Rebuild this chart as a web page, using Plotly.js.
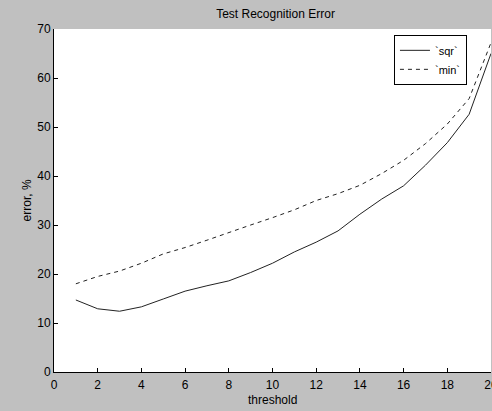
<!DOCTYPE html>
<html><head><meta charset="utf-8">
<script src="https://cdn.plot.ly/plotly-3.0.1.min.js"></script>
<style>html,body{margin:0;padding:0;background:#c0c0c0;}#chart{width:492px;height:411px;}</style>
</head><body><div id="chart"></div>
<script>
var thresholds = [1,2,3,4,5,6,7,8,9,10,11,12,13,14,15,16,17,18,19,20];
var sqrErr = [14.7,12.9,12.4,13.3,14.9,16.5,17.6,18.6,20.3,22.2,24.5,26.5,28.8,32.2,35.3,38.0,42.2,46.8,52.6,65.0];
var minErr = [18.0,19.5,20.6,22.2,24.1,25.4,26.9,28.5,30.0,31.5,33.1,35.0,36.4,38.1,40.5,43.2,46.6,50.6,55.8,67.2];
var xTicks = [0,2,4,6,8,10,12,14,16,18,20];
var yTicks = [0,10,20,30,40,50,60,70];

var font = {family:'Liberation Sans, Arial, sans-serif', size:12, color:'#000'};
var data = [
  {x:thresholds, y:sqrErr, name:'`sqr`', mode:'lines', line:{color:'#222', width:1, dash:'solid'}},
  {x:thresholds, y:minErr, name:'`min`', mode:'lines', line:{color:'#222', width:1, dash:'4px,4px'}}
];
var layout = {
  width:492, height:411,
  paper_bgcolor:'#c0c0c0', plot_bgcolor:'#ffffff',
  margin:{l:54, r:1, t:29, b:39},
  font:font,
  title:{text:'Test Recognition Error', font:{family:font.family, size:12, color:'#000'}, x:0.56, xanchor:'center', y:0.967, yanchor:'middle'},
  xaxis:{range:[0,20], tickvals:xTicks, ticktext:xTicks.map(String), ticks:'inside', ticklen:4, tickcolor:'#000',
         showgrid:false, zeroline:false, showline:true, linecolor:'#000', linewidth:1, mirror:false,
         ticklabeloverflow:'allow', ticklabelstandoff:2, tickfont:font},
  yaxis:{range:[0,70], tickvals:yTicks, ticktext:yTicks.map(String), ticks:'inside', ticklen:4, tickcolor:'#000',
         showgrid:false, zeroline:false, showline:true, linecolor:'#000', linewidth:1, mirror:false,
         tickfont:font},
  annotations:[
    {text:'threshold', xref:'paper', yref:'paper', x:0.5, y:-0.081, xanchor:'center', yanchor:'middle', showarrow:false, font:font},
    {text:'error, %', xref:'paper', yref:'paper', x:-0.062, y:0.5, xanchor:'center', yanchor:'middle', textangle:-90, showarrow:false, font:font}
  ],
  showlegend:true,
  legend:{x:0.945, xanchor:'right', y:0.983, yanchor:'top', bgcolor:'#fff', bordercolor:'#000', borderwidth:1,
          font:{family:font.family, size:11, color:'#000'}, itemwidth:30, tracegroupgap:0}
};
Plotly.newPlot('chart', data, layout, {displayModeBar:false, staticPlot:true});
</script></body></html>
